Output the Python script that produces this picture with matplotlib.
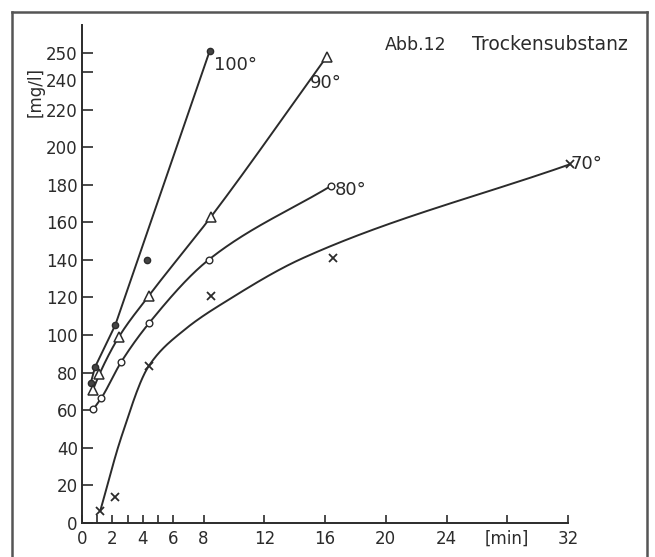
import numpy as np
import matplotlib
matplotlib.use("Agg")
import matplotlib.pyplot as plt
from matplotlib.lines import Line2D
import matplotlib.transforms as mtransforms

# ---- data (time in min, dry matter in mg/l) ----
t100 = [0.58, 0.86, 2.19, 4.3, 8.4]
c100 = [74.6, 83.0, 105.3, 140.0, 251.0]
t90 = [0.71, 1.15, 2.41, 4.41, 8.5, 16.1]
c90 = [70.7, 79.3, 98.8, 121.0, 163.0, 248.0]
t80 = [0.75, 1.26, 2.59, 4.41, 8.33, 16.4]
c80 = [60.6, 66.3, 85.8, 106.3, 140.0, 179.4]
t70 = [1.2, 2.2, 4.41, 8.5, 16.5, 32.1]
c70 = [6.4, 14.0, 83.7, 121.0, 140.8, 190.8]

# hand-drawn fitted curves
fit100_t = [0.58, 0.86, 2.19, 8.4]
fit100_c = [74.6, 83.0, 105.3, 251.0]
fit90_t = [0.71, 1.15, 2.41, 4.41, 8.5, 16.1]
fit90_c = [70.7, 79.3, 98.8, 121.0, 163.0, 248.0]
fit80_t = [0.75, 1.26, 2.59, 4.41, 8.33, 16.4]
fit80_c = [60.6, 66.3, 85.8, 106.3, 140.0, 179.4]
fit70_t = [1.2, 2.6, 4.41, 6.73, 9.61, 14.5, 32.1]
fit70_c = [6.4, 46.0, 83.7, 102.7, 118.6, 140.8, 190.8]

series_labels = ["100°", "90°", "80°", "70°"]
x_ticks = [0, 2, 4, 6, 8, 12, 16, 20, 24, 28, 32]
x_ticklabels = ["0", "2", "4", "6", "8", "12", "16", "20", "24", "[min]", "32"]
x_minor = [1, 3, 5]
y_ticks = [0, 20, 40, 60, 80, 100, 120, 140, 160, 180, 200, 220, 240, 250]
y_ticklabels = [str(v) for v in y_ticks]
title_left = "Abb.12"
title_right = "Trockensubstanz"
y_label = "[mg/l]"


def pchip(x, y, xs):
    x = np.asarray(x, float)
    y = np.asarray(y, float)
    h = np.diff(x)
    d = np.diff(y) / h
    n = len(x)
    m = np.zeros(n)
    for k in range(1, n - 1):
        if d[k - 1] * d[k] <= 0:
            m[k] = 0.0
        else:
            w1 = 2 * h[k] + h[k - 1]
            w2 = h[k] + 2 * h[k - 1]
            m[k] = (w1 + w2) / (w1 / d[k - 1] + w2 / d[k])
    m[0] = d[0]
    m[-1] = d[-1]
    idx = np.clip(np.searchsorted(x, xs) - 1, 0, n - 2)
    hk = h[idx]
    s = (xs - x[idx]) / hk
    h00 = 2 * s**3 - 3 * s**2 + 1
    h10 = s**3 - 2 * s**2 + s
    h01 = -2 * s**3 + 3 * s**2
    h11 = s**3 - s**2
    return h00 * y[idx] + h10 * hk * m[idx] + h01 * y[idx + 1] + h11 * hk * m[idx + 1]


ink = "#2b2b2b"
fig = plt.figure(figsize=(6.55, 5.57), dpi=100)
fig.patch.set_facecolor("white")

W, H = 655.0, 557.0
ax = fig.add_axes([82 / W, (H - 523) / H, (568 - 82) / W, (523 - 25) / H])
ax.set_xlim(0, 32)
ax.set_ylim(0, 265)
for s in ["top", "right"]:
    ax.spines[s].set_visible(False)
for s in ["left", "bottom"]:
    ax.spines[s].set_color(ink)
    ax.spines[s].set_linewidth(1.4)

# 100° line is drawn as straight segments, the others as smooth curves
ax.plot(fit100_t, fit100_c, color=ink, lw=1.4, zorder=2)
for ft, fc in [(fit90_t, fit90_c), (fit80_t, fit80_c), (fit70_t, fit70_c)]:
    xs = np.linspace(ft[0], ft[-1], 400)
    ax.plot(xs, pchip(ft, fc, xs), color=ink, lw=1.4, zorder=2, clip_on=False)

ax.plot(t100, c100, "o", ms=4.5, color=ink, mfc="#444444", mec=ink, zorder=3)
ax.plot(t90, c90, "^", ms=7, color=ink, mfc="white", mec=ink, mew=1.1, zorder=3)
ax.plot(t80, c80, "o", ms=4.8, color=ink, mfc="white", mec=ink, mew=1.0, zorder=3)
ax.plot(t70, c70, "x", ms=5.5, color=ink, mew=1.3, zorder=3, clip_on=False)

lbl_kw = dict(fontsize=13, color=ink, textcoords="offset points", annotation_clip=False)
ax.annotate(series_labels[0], (t100[-1], c100[-1]), xytext=(3, -10), ha="left", va="center", **lbl_kw)
ax.annotate(series_labels[1], (t90[-1], c90[-1]), xytext=(-12, -19), ha="left", va="center", **lbl_kw)
ax.annotate(series_labels[2], (t80[-1], c80[-1]), xytext=(3, -3), ha="left", va="center", **lbl_kw)
ax.annotate(series_labels[3], (t70[-1], c70[-1]), xytext=(1, 0), ha="left", va="center", **lbl_kw)

ax.set_xticks(x_ticks)
ax.set_xticklabels(x_ticklabels)
ax.set_xticks(x_minor, minor=True)
ax.set_yticks(y_ticks)
ax.set_yticklabels(y_ticklabels)
ax.tick_params(axis="x", which="both", direction="in", length=6, width=1.2, color=ink,
               labelsize=12, labelcolor=ink, pad=5)
ax.tick_params(axis="y", direction="in", length=8, width=1.2, color=ink,
               labelsize=12, labelcolor=ink, pad=3)
# the "240" label is printed squeezed below "250"
for lab in ax.get_yticklabels():
    if lab.get_text() == "240":
        lab.set_transform(lab.get_transform() + mtransforms.ScaledTranslation(0, -6 / 72, fig.dpi_scale_trans))

fig.text(36 / W, 1 - 92 / H, y_label, rotation=90, ha="center", va="center", fontsize=12, color=ink)
fig.text(446 / W, 1 - 45 / H, title_left, ha="right", va="center", fontsize=12.5, color=ink)
fig.text(472 / W, 1 - 45 / H, title_right, ha="left", va="center", fontsize=13.5, color=ink)

# outer frame of the scanned figure
frame_kw = dict(color="#555555", lw=1.8, transform=fig.transFigure)
fig.add_artist(Line2D([12 / W, 12 / W], [-0.02, 1 - 12 / H], **frame_kw))
fig.add_artist(Line2D([12 / W, 647 / W], [1 - 12 / H, 1 - 12 / H], **frame_kw))
fig.add_artist(Line2D([647 / W, 647 / W], [-0.02, 1 - 12 / H], **frame_kw))

fig.savefig("out.png", dpi=100, facecolor="white")
